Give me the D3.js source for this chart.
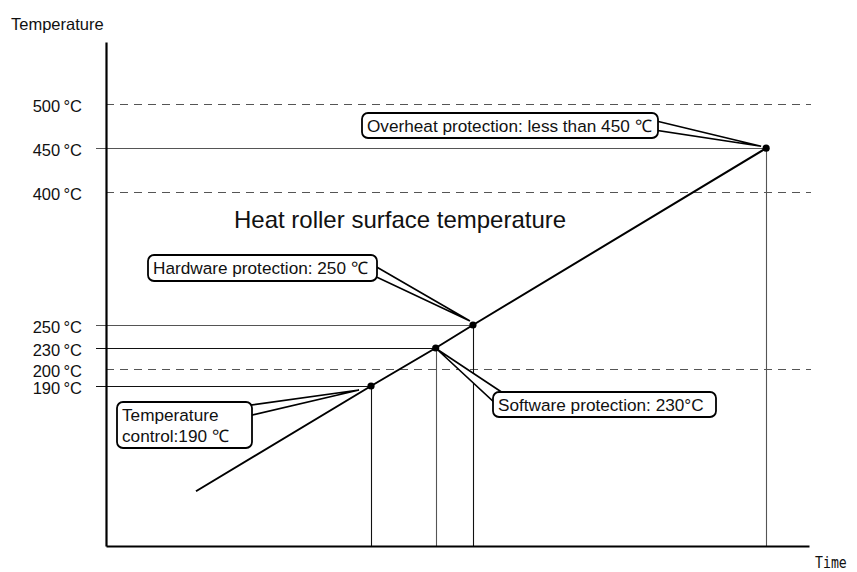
<!DOCTYPE html>
<html>
<head>
<meta charset="utf-8">
<script src="https://cdn.jsdelivr.net/npm/d3@7"></script>
<style>
  html, body { margin: 0; padding: 0; background: #fff; }
  svg { display: block; font-family: "Liberation Sans", Arial, Helvetica, sans-serif; }
</style>
</head>
<body>
<svg id="chart" width="857" height="572"></svg>
<script>
// Heating curve of the heat roller: time (arbitrary units) vs. surface temperature (°C)
const curveTimes = [12.8, 37.7, 46.9, 52.2, 93.9];
const curveTemps = [65, 190, 230, 250, 450];

// Temperatures marked on the axis
const tickTemps = [500, 450, 400, 250, 230, 200, 190];
// Reference levels drawn as dashed lines across the plot
const dashedTemps = [500, 400, 200];
// Protection / control thresholds (solid guides down to the time axis)
const thresholdTemps = [450, 250, 230, 190];
const hGuideShade = ["#555", "#555", "#111", "#111"];
const vGuideShade = ["#555", "#111", "#555", "#111"];

// Callout texts for each threshold
const calloutTemps = [450, 250, 230, 190];
const calloutLines = [
  ["Overheat protection: less than 450 \u2103"],
  ["Hardware protection: 250 \u2103"],
  ["Software protection: 230\u00B0C"],
  ["Temperature", "control:190 \u2103"]
];

const titleText = "Heat roller surface temperature";
const yAxisTitle = "Temperature";
const xAxisTitle = "Time";

// ---- layout ----
const svg = d3.select("#chart");
const plotLeft = 106, plotRight = 809, plotTop = 42, plotBottom = 546;

const x = d3.scaleLinear().domain([0, 100]).range([plotLeft, plotRight]);
// Schematic temperature axis: the closely spaced low thresholds are spread apart
const y = d3.scaleLinear()
  .domain([0, 190, 200, 230, 250, 500, 570])
  .range([plotBottom, 386, 369, 348, 325, 104, plotTop]);

const fmt = t => `${t}\u2009\u00B0C`;

// dashed reference levels
svg.append("g").selectAll("line").data(dashedTemps).join("line")
  .attr("x1", plotLeft).attr("x2", plotRight + 2)
  .attr("y1", d => Math.round(y(d)) + 0.5).attr("y2", d => Math.round(y(d)) + 0.5)
  .attr("stroke", "#555").attr("stroke-width", 1.2)
  .attr("stroke-dasharray", "8,6");

const pts = curveTimes.map((t, i) => ({ t, v: curveTemps[i] }));
const byTemp = new Map(pts.map(p => [p.v, p]));

// threshold guides: horizontal from the axis tick to the point, vertical down to the time axis
const guides = svg.append("g");
thresholdTemps.forEach((v, i) => {
  const p = byTemp.get(v);
  const py = Math.round(y(v)) + 0.5, px = Math.round(x(p.t)) + 0.5;
  guides.append("line")
    .attr("x1", plotLeft - 10).attr("x2", px).attr("y1", py).attr("y2", py)
    .attr("stroke", hGuideShade[i]).attr("stroke-width", 1.1);
  guides.append("line")
    .attr("x1", px).attr("x2", px).attr("y1", py).attr("y2", plotBottom)
    .attr("stroke", vGuideShade[i]).attr("stroke-width", 1.1);
});

// axes
const yAxis = d3.axisLeft(y).tickValues(tickTemps).tickFormat(fmt)
  .tickSize(0).tickPadding(24).tickSizeOuter(0);
const gy = svg.append("g").attr("transform", `translate(${plotLeft},0)`).call(yAxis);
gy.select(".domain").attr("stroke", "#000").attr("stroke-width", 2.2);
gy.selectAll(".tick text").attr("font-size", 16.5).attr("fill", "#111")
  .attr("dy", "0.45em")
  .attr("font-family", "Liberation Sans, Arial, sans-serif");

const xAxis = d3.axisBottom(x).tickValues([]).tickSizeOuter(0);
const gx = svg.append("g").attr("transform", `translate(0,${plotBottom})`).call(xAxis);
gx.select(".domain").attr("stroke", "#000").attr("stroke-width", 2.2);

// heating curve
svg.append("path").datum(pts)
  .attr("d", d3.line().x(d => x(d.t)).y(d => y(d.v)))
  .attr("fill", "none").attr("stroke", "#000").attr("stroke-width", 2);

// threshold points
svg.append("g").selectAll("circle").data(pts.filter(p => thresholdTemps.includes(p.v))).join("circle")
  .attr("cx", d => x(d.t)).attr("cy", d => y(d.v)).attr("r", 3.6).attr("fill", "#000");

// callouts: rounded label boxes with a wedge-shaped leader pointing at the point
const calloutLayout = [
  { box: [362, 113, 296, 25], base: [[648, 119], [648, 129]], tip: [-5, -2] },
  { box: [148, 255, 229, 26], base: [[368, 262], [368, 273]], tip: [-3, -4] },
  { box: [493, 392, 223, 25], base: [[503, 393], [495, 403]], tip: [1, 1] },
  { box: [117, 402, 135, 46], base: [[244, 406], [244, 417]], tip: [-12, 4] }
];

const co = svg.append("g");
calloutTemps.forEach((v, i) => {
  const p = byTemp.get(v);
  const L = calloutLayout[i];
  const tip = [x(p.t) + L.tip[0], y(v) + L.tip[1]];
  co.append("path")
    .attr("d", d3.line()([L.base[0], tip, L.base[1]]) + "Z")
    .attr("fill", "#fff").attr("stroke", "#000").attr("stroke-width", 1.6)
    .attr("stroke-linejoin", "miter");
  const [bx, by, bw, bh] = L.box;
  co.append("rect")
    .attr("x", bx).attr("y", by).attr("width", bw).attr("height", bh)
    .attr("rx", 6).attr("ry", 6)
    .attr("fill", "#fff").attr("stroke", "#000").attr("stroke-width", 1.8);
  const lines = calloutLines[i];
  const lh = 21;
  const first = by + bh / 2 - (lines.length - 1) * lh / 2 + 6;
  lines.forEach((s, k) => {
    co.append("text").attr("x", bx + 5).attr("y", first + k * lh)
      .attr("font-size", 17.2).attr("fill", "#111").text(s);
  });
});

// titles
svg.append("text").attr("x", 234).attr("y", 228)
  .attr("font-size", 24).attr("fill", "#111").text(titleText);
svg.append("text").attr("x", 11).attr("y", 30)
  .attr("font-size", 16.5).attr("fill", "#111").text(yAxisTitle);
svg.append("text")
  .attr("transform", `translate(815,568) scale(0.8,1)`)
  .attr("font-size", 16.5).attr("font-family", "DejaVu Sans Mono, monospace")
  .attr("fill", "#111").text(xAxisTitle);
</script>
</body>
</html>
